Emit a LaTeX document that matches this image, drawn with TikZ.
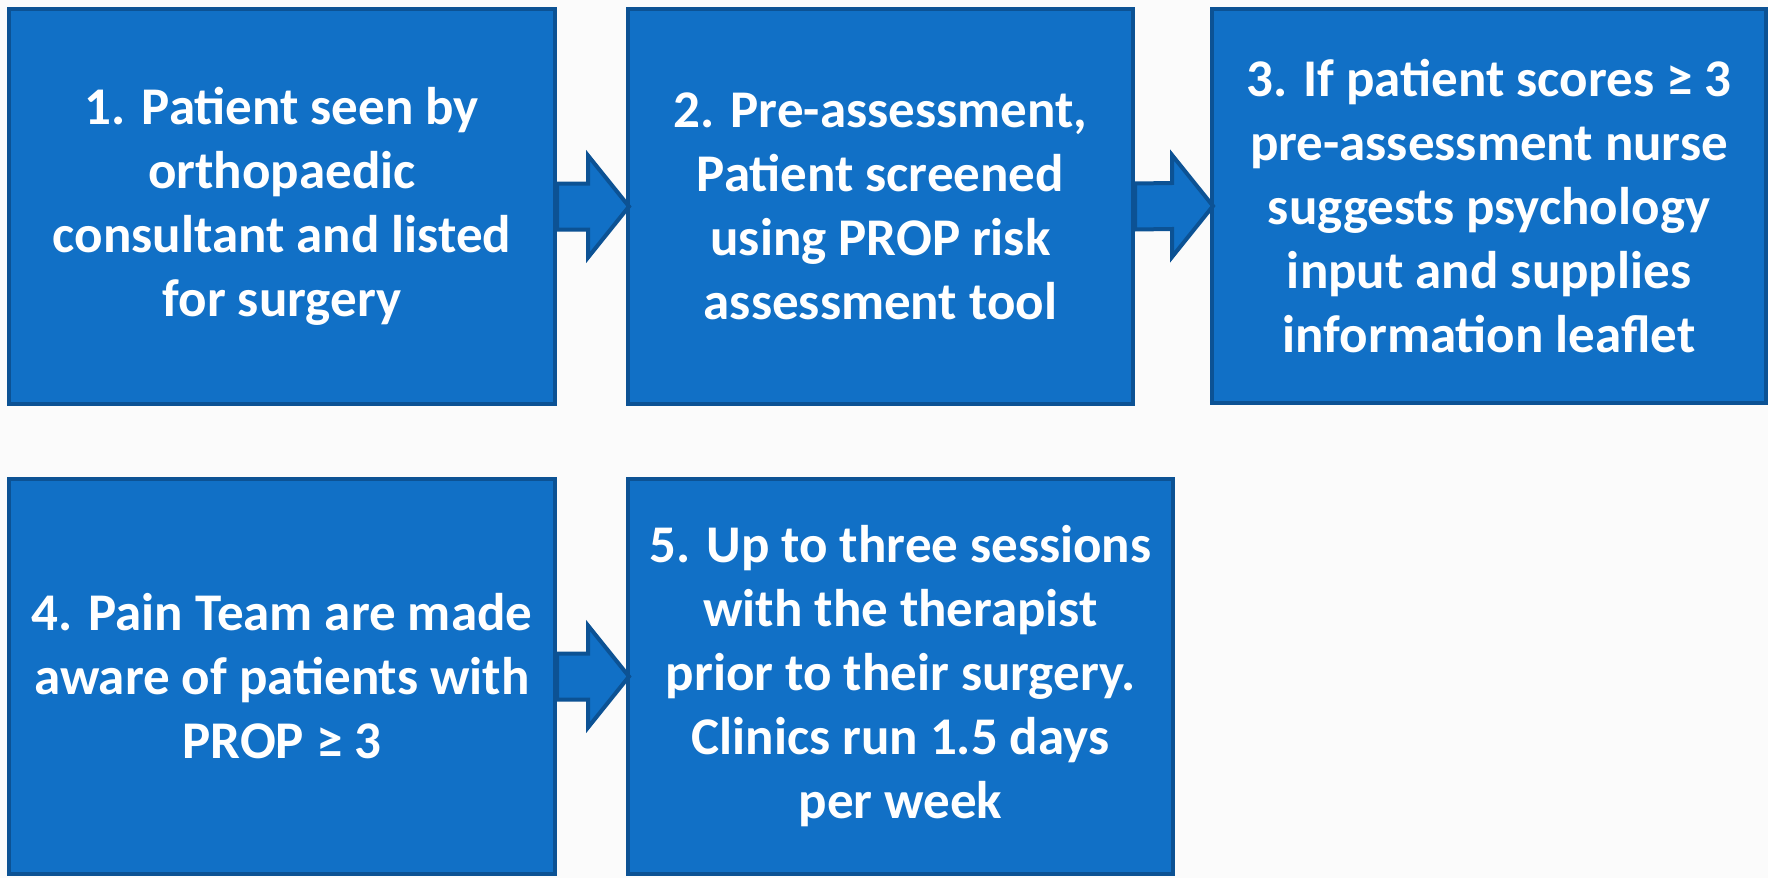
\documentclass[tikz,border=0pt]{standalone}
\usepackage{fontspec}
\setmainfont{Carlito}
\usetikzlibrary{calc}
\definecolor{boxfill}{HTML}{1170C6}
\definecolor{boxline}{HTML}{0C5294}
\definecolor{paper}{HTML}{FBFBFB}
\begin{document}
\begin{tikzpicture}[x=0.5pt,y=-0.5pt,
  stepbox/.style={draw=boxline, fill=boxfill, line width=2pt, rectangle,
    inner sep=0pt, text=white, align=center,
    font=\fontsize{26.5pt}{32pt}\selectfont\bfseries},
  flowarrow/.style={draw=boxline, fill=boxfill, line width=2pt, line join=miter}]
  % page and background
  \fill[paper] (0,0) rectangle (1768,878);
  \useasboundingbox (0,0) rectangle (1768,878);

  % process steps
  \node[stepbox, minimum width=273pt, minimum height=197.5pt] (s1) at (282,206.5)
    {1. Patient seen by\\orthopaedic\\consultant and listed\\for surgery};
  \node[stepbox, minimum width=252.5pt, minimum height=197.5pt] (s2) at (880.5,206.5)
    {2. Pre-assessment,\\Patient screened\\using PROP risk\\assessment tool};
  \node[stepbox, minimum width=277pt, minimum height=197pt] (s3) at (1489,206)
    {3. If patient scores ≥ 3\\pre-assessment nurse\\suggests psychology\\input and supplies\\information leaflet};
  \node[stepbox, minimum width=273pt, minimum height=197.5pt] (s4) at (282,676.5)
    {4. Pain Team are made\\aware of patients with\\PROP ≥ 3};
  \node[stepbox, minimum width=272.5pt, minimum height=197.5pt] (s5) at (900.5,676.5)
    {5. Up to three sessions\\with the therapist\\prior to their surgery.\\Clinics run 1.5 days\\per week};

  % block arrows between steps
  \foreach \a/\b in {s1/s2, s2/s3, s4/s5}{
    \draw[flowarrow]
      ($(\a.east)+(0,-23)$) -- ($(\b.west)+(-38,-23)$) -- ($(\b.west)+(-38,-51)$)
      -- ($(\b.west)+(3,0)$)
      -- ($(\b.west)+(-38,51)$) -- ($(\b.west)+(-38,23)$) -- ($(\a.east)+(0,23)$) -- cycle;
  }
\end{tikzpicture}
\end{document}
